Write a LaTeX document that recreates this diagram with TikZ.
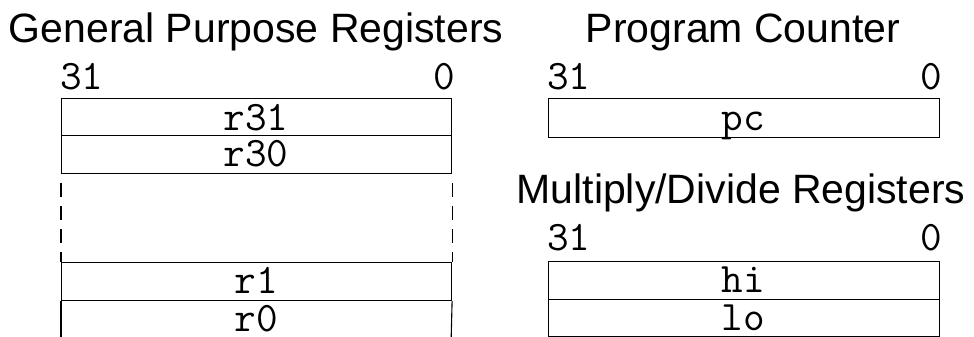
\documentclass[tikz,border=0pt]{standalone}
\usepackage{fontspec}
\setmainfont{Liberation Sans}
\setmonofont{Latin Modern Mono}
\begin{document}
\begin{tikzpicture}[x=1pt,y=-1pt,
  reg/.style={draw, line width=1.1pt, minimum width=390pt, inner sep=0pt, anchor=north west},
  side/.style={line width=1.1pt, line cap=butt},
  dashside/.style={line width=1.1pt, dash pattern=on 14pt off 9pt, dash phase=14pt},
  title/.style={font=\fontsize{41}{49}\selectfont, inner sep=0pt, anchor=base},
  mono/.style={font=\ttfamily\fontsize{42}{50}\selectfont, inner sep=0pt},
  lbl/.style={mono, anchor=base}]
\useasboundingbox (0,0) rectangle (974,337);
% General purpose registers
\node[title] (gtitle) at (256,43) {General Purpose Registers};
\node[mono, anchor=base west] (g31) at (60,89) {31};
\node[mono, anchor=base east] (g0) at (455,89) {0};
\node[reg, minimum height=37pt] (r31) at (61,98) {};
\node[reg, minimum height=38pt] (r30) at (61,135) {};
\node[reg, minimum height=38pt] (r1) at (61,262) {};
\coordinate (r0bl) at (61,345);
\coordinate (r0br) at (451,345);
\draw[side] (r1.south west) -- (r0bl);
\draw[side] (r1.south east) -- (r0br);
\draw[dashside] (r30.south west) -- (r1.north west);
\draw[dashside] (r30.south east) -- (r1.north east);
\node[lbl] (l31) at (256,130) {r31};
\node[lbl] (l30) at (256,166) {r30};
\node[lbl] (l1) at (256,293) {r1};
\node[lbl] (l0) at (256,331) {r0};
% Program counter
\node[title] (ptitle) at (743,43) {Program Counter};
\node[mono, anchor=base west] (p31) at (547,89) {31};
\node[mono, anchor=base east] (p0) at (942,89) {0};
\node[reg, minimum width=391pt, minimum height=39pt] (pc) at (548,98) {};
\node[lbl] (lpc) at (743,130) {pc};
% Multiply/Divide registers
\node[title] (mtitle) at (741,203) {Multiply/Divide Registers};
\node[mono, anchor=base west] (m31) at (547,250) {31};
\node[mono, anchor=base east] (m0) at (942,250) {0};
\node[reg, minimum width=391pt, minimum height=38pt] (hi) at (548,261) {};
\node[reg, minimum width=391pt, minimum height=37pt] (lo) at (548,299) {};
\node[lbl] (lhi) at (743,292) {hi};
\node[lbl] (llo) at (743,330) {lo};
\end{tikzpicture}
\end{document}
